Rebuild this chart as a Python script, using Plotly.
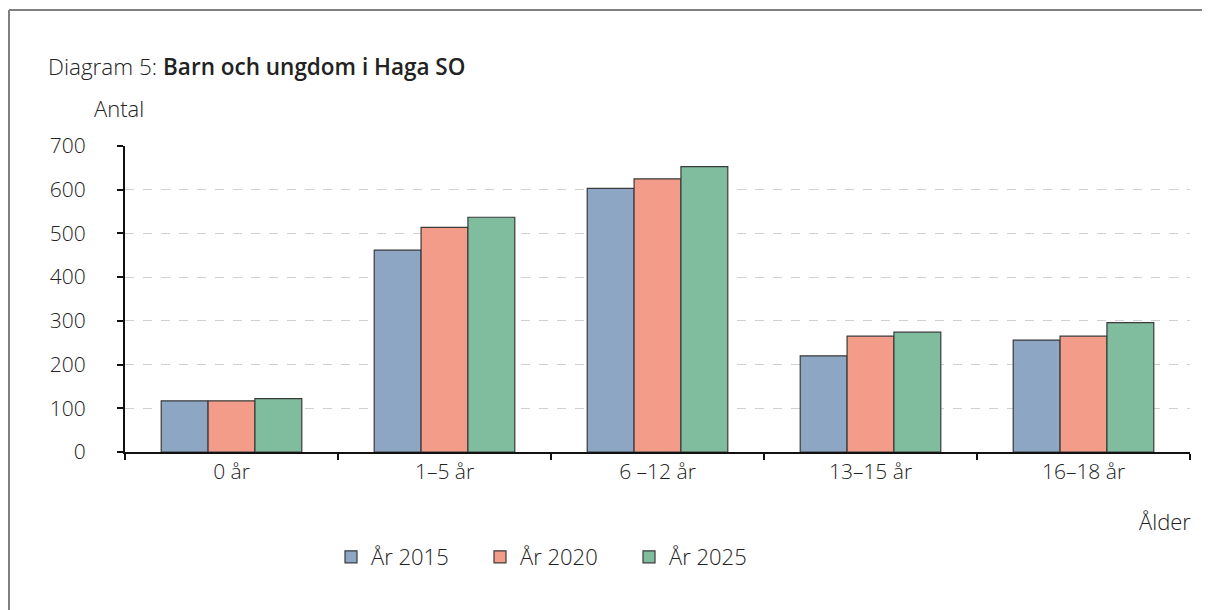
import plotly.graph_objects as go

# data
categories = ["0 år", "1–5 år", "6 –12 år", "13–15 år", "16–18 år"]
years = ["År 2015", "År 2020", "År 2025"]
values_2015 = [117, 462, 603, 220, 256]
values_2020 = [117, 514, 625, 265, 265]
values_2025 = [122, 537, 653, 274, 296]
y_ticks = [0, 100, 200, 300, 400, 500, 600, 700]

colors = ["#8CA6C3", "#F29C89", "#80BD9E"]
FONT = "Open Sans"

# the page body adds an 8px margin, so the figure is drawn 8px smaller
OFF = 8
W, H = 1210 - OFF, 610 - OFF
L, R, T, B = 125 - OFF, 20, 146 - OFF, 158
pw, ph = W - L - R, H - T - B


def px_x(p):
    return (p - OFF - L) / pw


def px_y(p):
    return (H - B - (p - OFF)) / ph


fig = go.Figure()
for name, vals, col in zip(years, [values_2015, values_2020, values_2025], colors):
    fig.add_trace(go.Bar(
        x=categories,
        y=vals,
        name=name,
        marker=dict(color=col, line=dict(color="#3a3a3a", width=1.2)),
    ))

fig.update_layout(
    width=W, height=H,
    margin=dict(l=L, r=R, t=T, b=B),
    paper_bgcolor="white",
    plot_bgcolor="white",
    barmode="group",
    bargap=0.34,
    bargroupgap=0,
    font=dict(family=FONT, size=21, color="#222", weight=300),
    showlegend=True,
    legend=dict(
        orientation="h",
        x=px_x(331), y=px_y(557), xanchor="left", yanchor="middle",
        font=dict(size=22, weight=300),
        entrywidth=104, entrywidthmode="pixels",
    ),
    xaxis=dict(
        showline=True, linecolor="#111", linewidth=2,
        ticks="outside", tickson="boundaries", ticklen=6, tickwidth=2, tickcolor="#111",
        showgrid=False,
        tickfont=dict(size=21, weight=300),
    ),
    yaxis=dict(
        range=[0, 700],
        tickvals=y_ticks,
        showline=True, linecolor="#111", linewidth=2,
        ticks="outside", ticklen=6, tickwidth=2, tickcolor="#111",
        showgrid=True, gridcolor="#d0d0d0", griddash="dash", gridwidth=1,
        zeroline=False,
        ticklabelstandoff=27,
        tickfont=dict(size=21, weight=300),
    ),
    annotations=[
        dict(text='Diagram 5: <span style="font-weight:600">Barn och ungdom i Haga SO</span>',
             xref="paper", yref="paper",
             x=px_x(46), y=px_y(66), xanchor="left", yanchor="middle", showarrow=False,
             font=dict(size=22.5, weight=300)),
        dict(text="Antal", xref="paper", yref="paper",
             x=px_x(92), y=px_y(108), xanchor="left", yanchor="middle", showarrow=False,
             font=dict(size=22, weight=300)),
        dict(text="Ålder", xref="paper", yref="paper",
             x=px_x(1193), y=px_y(521), xanchor="right", yanchor="middle", showarrow=False,
             font=dict(size=22, weight=300)),
    ],
    shapes=[
        dict(type="line", xref="paper", yref="paper", x0=px_x(9), x1=px_x(1210),
             y0=px_y(10), y1=px_y(10), line=dict(color="#808080", width=2)),
        dict(type="line", xref="paper", yref="paper", x0=px_x(9), x1=px_x(9),
             y0=px_y(10), y1=px_y(610), line=dict(color="#808080", width=2)),
    ],
)

fig.write_html("out.html")
